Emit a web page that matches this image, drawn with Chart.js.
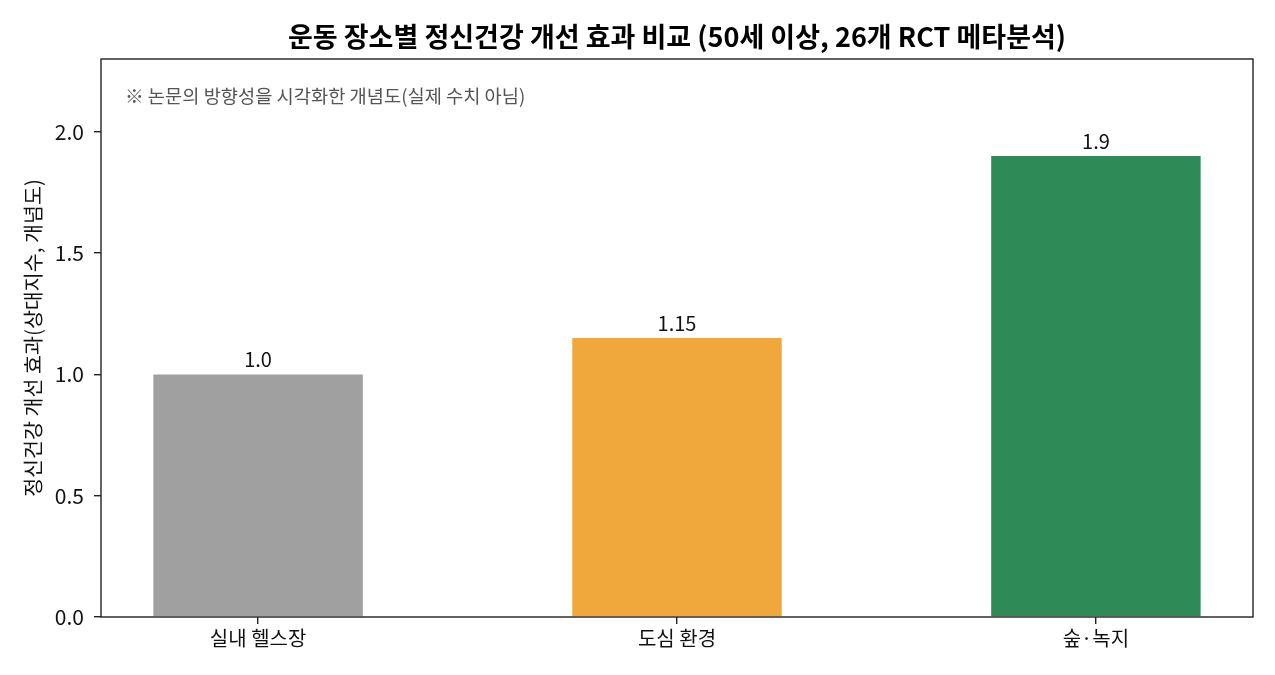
<!DOCTYPE html>
<html><head><meta charset="utf-8">
<script src="https://cdn.jsdelivr.net/npm/chart.js@4.4.0/dist/chart.umd.min.js"></script>
<style>html,body{margin:0;padding:0;background:#fff;}#wrap{width:1275px;height:675px;}</style>
</head><body><div id="wrap"><canvas id="c" width="1275" height="675"></canvas></div>
<script>
const categories = ["실내 헬스장", "도심 환경", "숲·녹지"];
const values = [1.0, 1.15, 1.9];
const valueLabels = ["1.0", "1.15", "1.9"];
const barColors = ["#a0a0a0", "#f0a83c", "#2e8b57"];
const yTicks = [0, 0.5, 1.0, 1.5, 2.0];
const titleText = "운동 장소별 정신건강 개선 효과 비교 (50세 이상, 26개 RCT 메타분석)";
const yTitle = "정신건강 개선 효과(상대지수, 개념도)";
const noteText = "※ 논문의 방향성을 시각화한 개념도(실제 수치 아님)";

const FONT = "'Noto Sans CJK KR', 'Noto Sans', sans-serif";

const extras = {
  id: 'extras',
  afterDatasetsDraw(chart) {
    const {ctx, chartArea: a, scales} = chart;
    ctx.save();
    ctx.strokeStyle = '#222';
    ctx.lineWidth = 1.4;
    ctx.strokeRect(a.left, a.top, a.right - a.left, a.bottom - a.top);
    ctx.fillStyle = '#111';
    ctx.font = "20px " + FONT;
    ctx.textAlign = 'center';
    ctx.textBaseline = 'alphabetic';
    values.forEach((v, i) => {
      const x = scales.x.getPixelForValue(i);
      const y = scales.y.getPixelForValue(v);
      ctx.fillText(valueLabels[i], x, y - 7);
    });
    ctx.fillStyle = '#555';
    ctx.font = "18.7px " + FONT;
    ctx.textAlign = 'left';
    ctx.textBaseline = 'middle';
    ctx.fillText(noteText, a.left + 24, a.top + 37);
    ctx.fillStyle = '#000';
    ctx.font = "bold 27px " + FONT;
    ctx.textAlign = 'center';
    ctx.fillText(titleText, (a.left + a.right) / 2, 37);
    ctx.restore();
  }
};

new Chart(document.getElementById('c'), {
  type: 'bar',
  data: {
    datasets: [{
      data: values.map((v, i) => ({x: i, y: v})),
      backgroundColor: barColors,
      categoryPercentage: 1.0,
      barPercentage: 0.5
    }]
  },
  options: {
    responsive: false,
    animation: false,
    devicePixelRatio: 1,
    layout: {padding: {left: 0, right: 22, top: 59, bottom: 0}},
    plugins: {
      legend: {display: false},
      tooltip: {enabled: false},
      title: {display: false}
    },
    scales: {
      x: {
        type: 'linear', min: -0.375, max: 2.375, offset: false,
        afterBuildTicks: s => { s.ticks = categories.map((c, i) => ({value: i})); },
        afterFit: s => { s.height = 58; },
        ticks: {callback: v => categories[v], color: '#111', font: {family: FONT, size: 20}, padding: 2, maxRotation: 0},
        grid: {drawOnChartArea: false, offset: false, tickLength: 7, color: '#222', lineWidth: 1.4},
        border: {display: false}
      },
      y: {
        min: 0, max: 2.3,
        afterBuildTicks: s => { s.ticks = yTicks.map(v => ({value: v})); },
        afterFit: s => { s.width = 101; },
        ticks: {callback: v => v.toFixed(1), color: '#111', font: {family: FONT, size: 21}, padding: 10},
        grid: {drawOnChartArea: false, tickLength: 7, color: '#222', lineWidth: 1.4},
        border: {display: false},
        title: {display: true, text: yTitle, color: '#111', font: {family: FONT, size: 20.6}, padding: {top: 21, bottom: 0}}
      }
    }
  },
  plugins: [extras]
});
</script></body></html>
